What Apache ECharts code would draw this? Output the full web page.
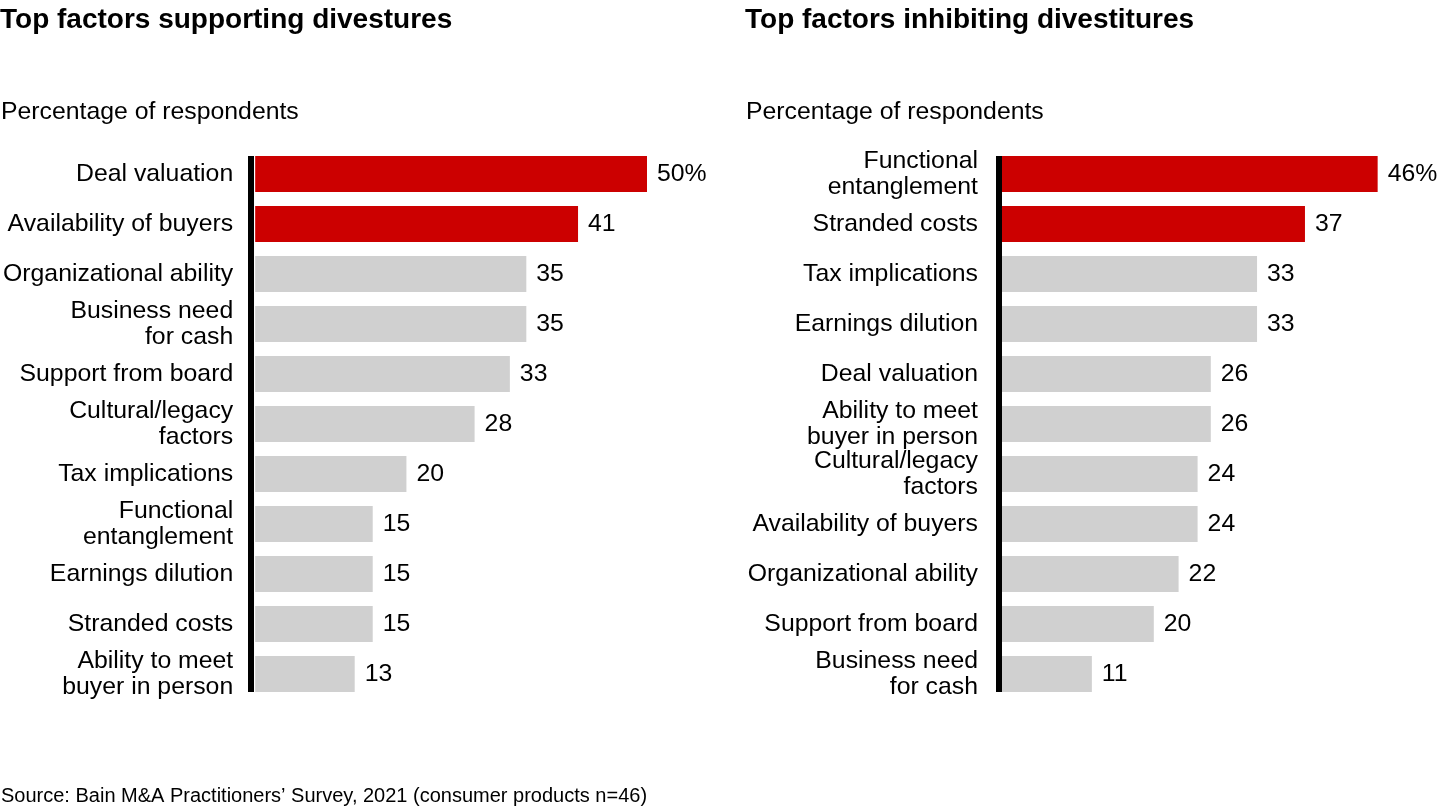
<!DOCTYPE html>
<html>
<head>
<meta charset="utf-8">
<script src="https://cdn.jsdelivr.net/npm/echarts@6/dist/echarts.min.js"></script>
<style>
html,body{margin:0;padding:0;background:#fff;}
#chart{width:1440px;height:810px;}
</style>
</head>
<body>
<div id="chart"></div>
<script>
// ---- data ----
const leftCategories = ['Deal valuation','Availability of buyers','Organizational ability','Business need\nfor cash','Support from board','Cultural/legacy\nfactors','Tax implications','Functional\nentanglement','Earnings dilution','Stranded costs','Ability to meet\nbuyer in person'];
const leftValues = [50, 41.2, 34.6, 34.6, 32.5, 28.0, 19.3, 15.0, 15.0, 15.0, 12.7];
const leftLabels = [50, 41, 35, 35, 33, 28, 20, 15, 15, 15, 13];
const leftHighlight = 2;

const rightCategories = ['Functional\nentanglement','Stranded costs','Tax implications','Earnings dilution','Deal valuation','Ability to meet\nbuyer in person','Cultural/legacy\nfactors','Availability of buyers','Organizational ability','Support from board','Business need\nfor cash'];
const rightValues = [45.6, 36.8, 31.0, 31.0, 25.4, 25.4, 23.8, 23.8, 21.5, 18.5, 11.0];
const rightLabels = [46, 37, 33, 33, 26, 26, 24, 24, 22, 20, 11];
const rightHighlight = 2;

const titles = ['Top factors supporting divestures','Top factors inhibiting divestitures'];
const subtitle = 'Percentage of respondents';
const source = 'Source: Bain M&A Practitioners\u2019 Survey, 2021 (consumer products n=46)';

// ---- style ----
const FONT = '"Liberation Sans", Arial, sans-serif';
const RED = '#CC0000', GRAY = '#D0D0D0';
const FS = 24.8;
const gridTop = 149, gridHeight = 550, barW = 36;
const grids = [
  {left: 253, top: gridTop, width: 394, height: gridHeight},
  {left: 1001, top: gridTop, width: 413, height: gridHeight}
];

function barData(vals, hi){
  return vals.map((v,i)=>({value:v, itemStyle:{color: i < hi ? RED : GRAY}}));
}
function labelFmt(labels){
  return p => labels[p.dataIndex] + (p.dataIndex === 0 ? '%' : '');
}

const chart = echarts.init(document.getElementById('chart'), null, {renderer:'canvas'});
const gap = (gridHeight/11 - barW)/2;

const option = {
  animation: false,
  textStyle: {fontFamily: FONT},
  title: [
    {text: titles[0], left: 0, top: 4, padding: 0, textStyle:{fontFamily:FONT, fontSize:28, fontWeight:'bold', color:'#000', lineHeight:32}},
    {text: titles[1], left: 745, top: 4, padding: 0, textStyle:{fontFamily:FONT, fontSize:28, fontWeight:'bold', color:'#000', lineHeight:32}},
    {text: subtitle, left: 1, top: 98, padding: 0, textStyle:{fontFamily:FONT, fontSize:FS, fontWeight:'normal', color:'#000', lineHeight:28}},
    {text: subtitle, left: 746, top: 98, padding: 0, textStyle:{fontFamily:FONT, fontSize:FS, fontWeight:'normal', color:'#000', lineHeight:28}},
    {text: source, left: 1, top: 784, padding: 0, textStyle:{fontFamily:FONT, fontSize:20, fontWeight:'normal', color:'#000', lineHeight:24}}
  ],
  grid: grids,
  xAxis: [
    {gridIndex:0, type:'value', min:0, max:50, show:false},
    {gridIndex:1, type:'value', min:0, max:50, show:false}
  ],
  yAxis: [
    {gridIndex:0, type:'category', inverse:true, data:leftCategories,
     axisLine:{show:false}, axisTick:{show:false},
     axisLabel:{margin:22, fontFamily:FONT, fontSize:FS, color:'#000', lineHeight:26, align:'right'}},
    {gridIndex:1, type:'category', inverse:true, data:rightCategories,
     axisLine:{show:false}, axisTick:{show:false},
     axisLabel:{margin:23, fontFamily:FONT, fontSize:FS, color:'#000', lineHeight:26, align:'right'}}
  ],
  series: [
    {type:'bar', xAxisIndex:0, yAxisIndex:0, barWidth:barW, data:barData(leftValues, leftHighlight),
     label:{show:true, position:'right', distance:10, fontFamily:FONT, fontSize:FS, color:'#000', formatter:labelFmt(leftLabels)}},
    {type:'bar', xAxisIndex:1, yAxisIndex:1, barWidth:barW, data:barData(rightValues, rightHighlight),
     label:{show:true, position:'right', distance:10, fontFamily:FONT, fontSize:FS, color:'#000', formatter:labelFmt(rightLabels)}}
  ],
  graphic: grids.map(g => ({
    type:'line', z:10,
    shape:{x1:g.left-2, y1:g.top+gap, x2:g.left-2, y2:g.top+g.height-gap},
    style:{stroke:'#000', lineWidth:6}
  }))
};
chart.setOption(option);
</script>
</body>
</html>
